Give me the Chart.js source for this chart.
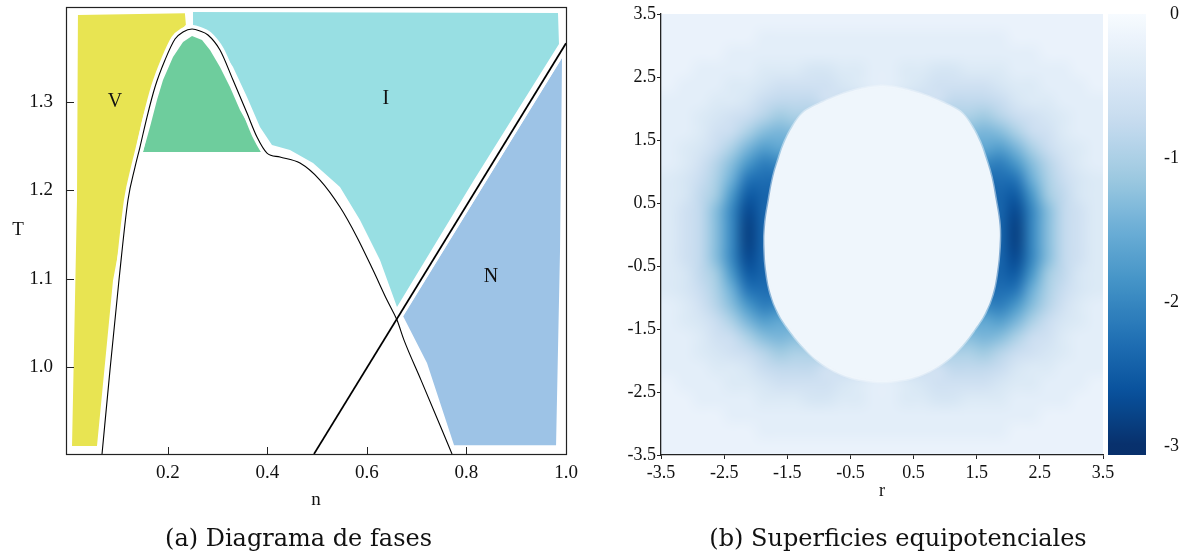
<!DOCTYPE html>
<html>
<head>
<meta charset="utf-8">
<script src="https://cdn.jsdelivr.net/npm/chart.js@4.4.1/dist/chart.umd.min.js"></script>
<style>
html,body{margin:0;padding:0;background:#fff;}
#wrap{position:relative;width:1191px;height:559px;overflow:hidden;background:#fff;}
#left{position:absolute;left:0;top:0;}
#right{position:absolute;left:600px;top:0;}
</style>
</head>
<body>
<div id="wrap">
<canvas id="left" width="600" height="559"></canvas>
<canvas id="right" width="591" height="559"></canvas>
</div>
<script>
// ================= Panel (a): Diagrama de fases =================
const nTicks = [0.2, 0.4, 0.6, 0.8, 1.0];
const tTicks = [1.0, 1.1, 1.2, 1.3];

// phase regions as [n, T] vertices
const regionV = [[0.019,1.398],[0.234,1.400],[0.236,1.387],[0.224,1.379],[0.210,1.372],[0.190,1.351],[0.178,1.332],[0.164,1.310],[0.150,1.283],[0.138,1.253],[0.128,1.219],[0.120,1.189],[0.0895,1.098],[0.0573,0.911],[0.0071,0.911],[0.0171,1.189]];
const regionG = [[0.2483,1.3742],[0.2302,1.3675],[0.2101,1.3505],[0.190,1.3245],[0.1779,1.3019],[0.1638,1.2714],[0.1498,1.2432],[0.387,1.2432],[0.3709,1.2646],[0.3447,1.2906],[0.3246,1.3166],[0.3045,1.3392],[0.2844,1.3584],[0.2684,1.3697]];
const regionI = [[0.2503,1.4013],[0.9839,1.4002],[0.9859,1.3652],[0.815,1.2115],[0.6603,1.068],[0.6261,1.1211],[0.5859,1.1663],[0.5457,1.2036],[0.4915,1.2307],[0.4452,1.2454],[0.409,1.2511],[0.3849,1.2714],[0.3588,1.3053],[0.3307,1.3392],[0.3045,1.3618],[0.2784,1.3776],[0.2583,1.3844],[0.2503,1.3867]];
const regionN = [[0.992,1.3494],[0.988,1.1324],[0.980,0.912],[0.775,0.912],[0.7206,1.0047],[0.6724,1.0578]];

// coexistence curve and the straight transition line
const coexCurve = [[0.0674,0.902],[0.0834,0.9968],[0.1015,1.0985],[0.1196,1.189],[0.1337,1.226],[0.1437,1.2488],[0.1578,1.2827],[0.1739,1.3166],[0.194,1.3471],[0.2141,1.3708],[0.2302,1.3788],[0.2483,1.3821],[0.2643,1.3799],[0.2804,1.3754],[0.3045,1.3584],[0.3307,1.3245],[0.3588,1.2872],[0.3789,1.2601],[0.399,1.242],[0.4251,1.2375],[0.4653,1.2307],[0.5055,1.2115],[0.5457,1.181],[0.5799,1.147],[0.6121,1.1098],[0.6402,1.0759],[0.6603,1.0533],[0.6744,1.0307],[0.7086,0.9855],[0.7709,0.902]];
const transitionLine = [[0.4935,0.902],[1.0,1.366]];

const regionLabels = [['V',0.0935,1.300],['I',0.638,1.303],['N',0.849,1.102]];

// ================= Panel (b): Superficies equipotenciales =================
const rTicks = [-3.5,-2.5,-1.5,-0.5,0.5,1.5,2.5,3.5];
const zTicks = [-3.5,-2.5,-1.5,-0.5,0.5,1.5,2.5,3.5];
const cbTicks = [0,-1,-2,-3];
const gridExtent = [-3.5, 3.5];
// potential on a 28x28 grid (cell width 0.25), rows from top (z=3.375) to bottom (z=-3.375)
// each character is a level: value = -(index in levelCodes) * levelStep
const levelCodes = "0123456789ABCDEFGHIJKLMNOPQRSTU";
const levelStep = 0.1;
const potentialRows = [
"2222222222222222222222222222",
"2222223333333333333333222222",
"2222333333333333333333332222",
"2233334445544334455444333322",
"2333445666654334566665443332",
"3334457888666446668887544333",
"3345679BAAA111111AAAB9765433",
"33467ADEDD11111111DDEDA76433",
"3457AEHGGG11111111GGGHEA7543",
"3469DILKK1111111111KKLID9643",
"457AFMNNN1111111111NNNMFA754",
"458BIPOOO1111111111OOOPIB854",
"468DKROOO1111111111OOORKD864",
"468DKSOOO1111111111OOOSKD864",
"468DKSOOO1111111111OOOSKD864",
"468DKROOO1111111111OOORKD864",
"458BIPOOO1111111111OOOPIB854",
"457AFMNNN1111111111NNNMFA754",
"3469DILKK1111111111KKLID9643",
"3457AEHGGG11111111GGGHEA7543",
"33467ADEDD11111111DDEDA76433",
"3345679BAAA111111AAAB9765433",
"3334457888666446668887544333",
"2333445666654334566665443332",
"2233334445544334455444333322",
"2222333333333333333333332222",
"2222223333333333333333222222",
"2222222222222222222222222222"
];
const potential = potentialRows.map(r => r.split('').map(ch => -levelCodes.indexOf(ch) * levelStep));

// flat inner region (equipotential core) outline as [r, z], and its value
const coreOutline = [[0,2.36],[0.25,2.33],[0.5,2.27],[0.74,2.19],[0.95,2.10],[1.12,2.02],[1.27,1.92],[1.42,1.72],[1.55,1.47],[1.64,1.22],[1.73,0.92],[1.80,0.55],[1.86,0.15],[1.86,-0.2],[1.82,-0.6],[1.75,-0.95],[1.63,-1.25],[1.47,-1.5],[1.27,-1.76],[1.02,-2.0],[0.75,-2.17],[0.5,-2.27],[0.25,-2.32],[0,-2.34],[-0.25,-2.32],[-0.5,-2.27],[-0.75,-2.17],[-1.02,-2.0],[-1.27,-1.76],[-1.48,-1.5],[-1.64,-1.25],[-1.76,-0.95],[-1.83,-0.6],[-1.86,-0.2],[-1.85,0.15],[-1.79,0.55],[-1.72,0.92],[-1.63,1.22],[-1.54,1.47],[-1.41,1.72],[-1.26,1.92],[-1.11,2.02],[-0.94,2.10],[-0.73,2.19],[-0.5,2.27],[-0.25,2.33]];
const coreValue = -0.12;

// ================= helpers =================
const xy = arr => arr.map(p => ({x: p[0], y: p[1]}));
const serif = "'Liberation Serif','Times New Roman',serif";
const capFont = "24px 'DejaVu Serif', serif";

const bluesStops = [[247,251,255],[222,235,247],[198,219,239],[158,202,225],[107,174,214],[66,146,198],[33,113,181],[8,81,156],[8,48,107]];
function blues(t){
  t = Math.max(0, Math.min(1, t));
  const s = t * 8, i = Math.min(7, Math.floor(s)), f = s - i;
  const a = bluesStops[i], b = bluesStops[i+1];
  return [a[0]+(b[0]-a[0])*f, a[1]+(b[1]-a[1])*f, a[2]+(b[2]-a[2])*f];
}
const rgba = (c, a) => 'rgba(' + c.map(Math.round).join(',') + ',' + a + ')';

function polygonDs(pts, color){
  return {data: xy(pts.concat([pts[0]])), showLine: true, fill: 'shape', backgroundColor: color,
          borderColor: 'rgba(0,0,0,0)', borderWidth: 0, pointRadius: 0, pointHoverRadius: 0, tension: 0, order: 10};
}
function lineDs(pts, color, w, order, mono){
  return {data: xy(pts), showLine: true, fill: false, borderColor: color, borderWidth: w,
          pointRadius: 0, pointHoverRadius: 0, order: order,
          cubicInterpolationMode: mono ? 'monotone' : 'default', tension: 0};
}
const fixV = w => s => { s.width = w; s.paddingTop = 0; s.paddingBottom = 0; };
const fixH = h => s => { s.height = h; s.paddingLeft = 0; s.paddingRight = 0; };

// ================= left chart =================
const leftDecor = {
  id: 'leftDecor',
  afterDatasetsDraw(chart){
    const {ctx, scales:{x, y}} = chart;
    ctx.save();
    ctx.fillStyle = '#111';
    ctx.font = "20px " + serif;
    ctx.textAlign = 'center'; ctx.textBaseline = 'middle';
    regionLabels.forEach(l => ctx.fillText(l[0], x.getPixelForValue(l[1]), y.getPixelForValue(l[2])));
    ctx.restore();
  },
  afterDraw(chart){
    const {ctx, chartArea: a, scales:{x, y}} = chart;
    ctx.save();
    ctx.strokeStyle = '#222'; ctx.lineWidth = 1.2;
    ctx.strokeRect(a.left + 0.5, a.top + 0.5, a.right - a.left, a.bottom - a.top);
    ctx.beginPath();
    nTicks.forEach(v => { const px = Math.round(x.getPixelForValue(v)) + 0.5; if (px < a.right - 2) { ctx.moveTo(px, a.bottom); ctx.lineTo(px, a.bottom - 7); } });
    tTicks.forEach(v => { const py = Math.round(y.getPixelForValue(v)) + 0.5; ctx.moveTo(a.left, py); ctx.lineTo(a.left + 8, py); });
    ctx.lineWidth = 1; ctx.stroke();
    ctx.fillStyle = '#111';
    ctx.font = "19px " + serif;
    ctx.textAlign = 'center'; ctx.textBaseline = 'middle';
    ctx.fillText('T', a.left - 48, (a.top + a.bottom) / 2);
    ctx.fillText('n', (a.left + a.right) / 2, a.bottom + 46);
    ctx.font = capFont;
    ctx.fillText('(a) Diagrama de fases', 298.5, 540);
    ctx.restore();
  }
};

new Chart(document.getElementById('left'), {
  type: 'scatter',
  data: { datasets: [
    polygonDs(regionV, '#e8e452'),
    polygonDs(regionG, '#6ecd9d'),
    polygonDs(regionI, '#98dfe3'),
    polygonDs(regionN, '#9dc3e6'),
    lineDs(coexCurve, '#ffffff', 8, 5, true),
    lineDs(transitionLine, '#ffffff', 8, 5, false),
    lineDs(coexCurve, '#000000', 1.1, 1, true),
    lineDs(transitionLine, '#000000', 1.7, 1, false)
  ]},
  options: {
    responsive: false, animation: false, devicePixelRatio: 1, events: [],
    layout: { autoPadding: false, padding: { left: 0, right: 34, top: 7, bottom: 65 } },
    plugins: { legend: { display: false }, tooltip: { enabled: false } },
    scales: {
      x: { type: 'linear', min: -0.005, max: 1.0,
           afterBuildTicks: s => { s.ticks = nTicks.map(v => ({value: v})); },
           afterFit: fixH(40),
           grid: { display: false, drawTicks: false }, border: { display: false },
           ticks: { callback: v => Number(v).toFixed(1), font: { family: serif, size: 19 }, color: '#111', padding: 8, maxRotation: 0, autoSkip: false } },
      y: { type: 'linear', min: 0.902, max: 1.407,
           afterBuildTicks: s => { s.ticks = tTicks.map(v => ({value: v})); },
           afterFit: fixV(66),
           grid: { display: false, drawTicks: false }, border: { display: false },
           ticks: { callback: v => Number(v).toFixed(1), font: { family: serif, size: 19 }, color: '#111', padding: 13, autoSkip: false } }
    }
  },
  plugins: [leftDecor]
});

// ================= right chart =================
const heatPlugin = {
  id: 'heatmap',
  beforeDraw(chart){
    const {ctx, scales} = chart;
    const xs = scales.x, ys = scales.y, cs = scales.cb;
    const rows = potential.length, cols = potential[0].length;
    const off = document.createElement('canvas');
    off.width = cols; off.height = rows;
    const octx = off.getContext('2d');
    const img = octx.createImageData(cols, rows);
    for (let j = 0; j < rows; j++) for (let i = 0; i < cols; i++) {
      const c = blues(-potential[j][i] / 3), k = (j * cols + i) * 4;
      img.data[k] = c[0]; img.data[k+1] = c[1]; img.data[k+2] = c[2]; img.data[k+3] = 255;
    }
    octx.putImageData(img, 0, 0);
    const x0 = xs.getPixelForValue(gridExtent[0]), x1 = xs.getPixelForValue(gridExtent[1]);
    const y0 = ys.getPixelForValue(gridExtent[1]), y1 = ys.getPixelForValue(gridExtent[0]);
    ctx.save();
    ctx.imageSmoothingEnabled = true; ctx.imageSmoothingQuality = 'high';
    ctx.drawImage(off, 0, 0, cols, rows, x0, y0, x1 - x0, y1 - y0);
    // colour bar
    const top = cs.getPixelForValue(cs.max), bot = cs.getPixelForValue(cs.min);
    const g = ctx.createLinearGradient(0, top, 0, bot);
    for (let k = 0; k <= 40; k++) {
      const v = cs.max + (cs.min - cs.max) * k / 40;
      g.addColorStop(k / 40, rgba(blues(-v / 3), 1));
    }
    ctx.fillStyle = g;
    ctx.fillRect(cs.left + 5, top, 38, bot - top);
    ctx.restore();
  },
  afterDraw(chart){
    const {ctx, chartArea: a} = chart;
    ctx.save();
    ctx.fillStyle = '#111';
    ctx.font = "18px " + serif;
    ctx.textAlign = 'center'; ctx.textBaseline = 'middle';
    ctx.fillText('r', (a.left + a.right) / 2, 491);
    ctx.font = capFont;
    ctx.fillText('(b) Superficies equipotenciales', 298, 540);
    ctx.restore();
  }
};

const coreColor = blues(-coreValue / 3);
new Chart(document.getElementById('right'), {
  type: 'scatter',
  data: { datasets: [{
    data: xy(coreOutline.concat([coreOutline[0]])), showLine: true, fill: 'shape',
    backgroundColor: rgba(coreColor, 1), borderColor: rgba(coreColor, 0.5), borderWidth: 3,
    pointRadius: 0, pointHoverRadius: 0, tension: 0.4
  }] },
  options: {
    responsive: false, animation: false, devicePixelRatio: 1, events: [],
    layout: { autoPadding: false, padding: { left: 0, right: 12, top: 14, bottom: 64 } },
    plugins: { legend: { display: false }, tooltip: { enabled: false } },
    scales: {
      x: { type: 'linear', min: -3.5, max: 3.5,
           afterBuildTicks: s => { s.ticks = rTicks.map(v => ({value: v})); },
           afterFit: fixH(40),
           grid: { display: true, drawOnChartArea: false, drawTicks: true, tickLength: 4, color: '#222' },
           border: { display: true, color: '#222', width: 1.3 },
           ticks: { callback: v => Number(v).toFixed(1), font: { family: serif, size: 18 }, color: '#111', padding: 3, maxRotation: 0, minRotation: 0, autoSkip: false } },
      y: { type: 'linear', position: 'left', min: -3.5, max: 3.5,
           afterBuildTicks: s => { s.ticks = zTicks.map(v => ({value: v})); },
           afterFit: fixV(61),
           grid: { display: true, drawOnChartArea: false, drawTicks: true, tickLength: 4, color: '#222' },
           border: { display: true, color: '#222', width: 1.3 },
           ticks: { callback: v => Number(v).toFixed(1), font: { family: serif, size: 18 }, color: '#111', padding: 1, autoSkip: false } },
      cb: { type: 'linear', axis: 'y', position: 'right', min: -3.06, max: 0,
           afterBuildTicks: s => { s.ticks = cbTicks.map(v => ({value: v})); },
           afterFit: fixV(76),
           grid: { display: false, drawTicks: false }, border: { display: false },
           ticks: { callback: v => String(v), font: { family: serif, size: 18 }, color: '#111', padding: 51, crossAlign: 'far', autoSkip: false } }
    }
  },
  plugins: [heatPlugin]
});
</script>
</body>
</html>
